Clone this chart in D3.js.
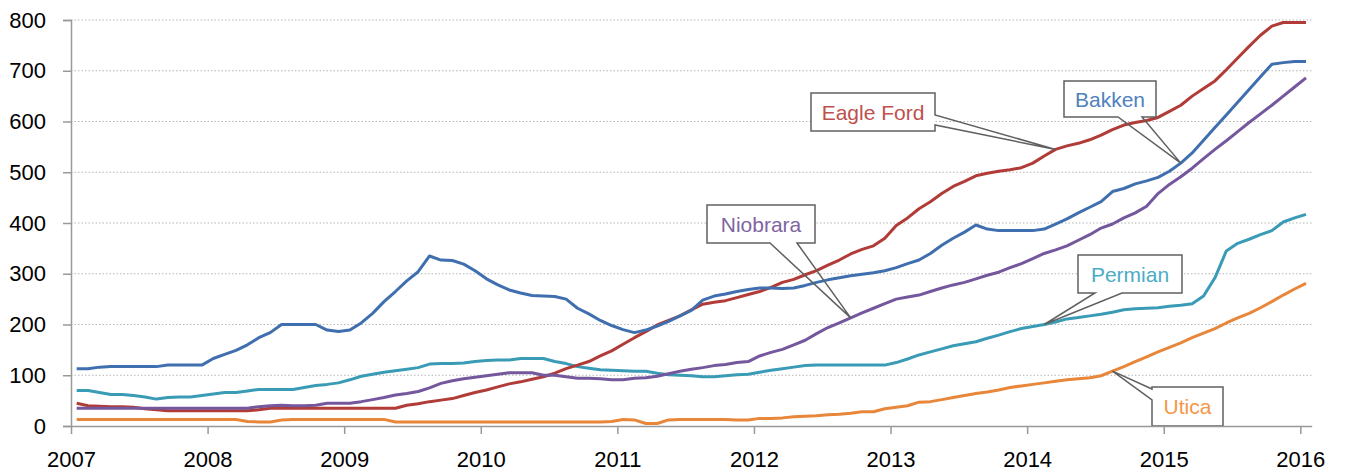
<!DOCTYPE html>
<html>
<head>
<meta charset="utf-8">
<script src="https://cdn.jsdelivr.net/npm/d3@7/dist/d3.min.js"></script>
<style>
body{margin:0;background:#fff;}
svg{display:block;font-family:'Liberation Sans',Arial,sans-serif;}
</style>
</head>
<body>
<div id="chart"></div>
<script>
// monthly values, Jan 2007 .. Jan 2016 (109 months)
var years=[2007,2008,2009,2010,2011,2012,2013,2014,2015,2016];
var yTicks=[0,100,200,300,400,500,600,700,800];

var bakken=[
	113,113,116,117,117,117,117,117,120,120,120,120,
	133,141,149,160,174,184,200,200,200,200,189,186,
	189,203,222,245,265,286,304,335,327,326,319,306,
	290,278,268,262,257,256,255,250,232,221,208,198,
	190,184,189,197,206,217,228,248,256,260,265,269,
	272,272,271,272,277,283,288,292,296,299,302,306,
	312,320,327,340,356,370,382,396,388,385,385,385,
	385,388,398,408,420,431,442,462,468,477,483,490,
	502,518,538,563,588,613,638,663,688,713,716,718,
	718];
var eagleFord=[
	45,40,39,38,38,37,34,32,30,30,30,30,
	30,30,30,30,32,35,35,35,35,35,35,35,
	35,35,35,35,35,41,44,48,51,54,60,66,
	71,77,83,87,92,97,104,113,120,127,138,148,
	161,174,186,199,208,217,229,240,244,247,253,259,
	265,273,283,289,298,306,317,327,339,348,355,370,
	395,410,428,442,458,472,482,493,498,502,505,509,
	518,532,545,552,557,564,573,584,593,598,602,608,
	620,632,650,665,680,702,725,748,770,788,795,795,
	795];
var niobrara=[
	35,35,35,35,35,35,35,35,35,35,35,35,
	35,35,35,35,38,40,41,40,40,41,45,45,
	45,48,52,56,61,64,68,75,84,89,93,96,
	99,102,105,105,105,100,100,97,94,94,93,91,
	91,94,95,98,103,108,112,115,119,121,125,127,
	138,145,151,160,169,182,194,203,213,223,232,241,
	250,254,258,265,272,278,283,290,297,303,312,320,
	330,340,347,355,366,377,390,398,410,420,433,458,
	476,491,508,527,545,562,580,598,615,632,650,668,
	686];
var permian=[
	70,70,66,62,62,60,57,53,56,57,57,60,
	63,66,66,69,72,72,72,72,76,80,82,85,
	91,98,102,106,109,112,115,122,123,123,124,127,
	129,130,130,133,133,133,127,123,117,114,111,110,
	109,108,108,104,101,100,99,97,97,99,101,102,
	106,110,113,116,119,120,120,120,120,120,120,120,
	125,132,140,146,152,158,162,166,173,179,186,192,
	196,200,205,211,214,217,220,224,229,231,232,233,
	236,238,241,256,292,345,360,368,377,385,402,410,
	417];
var utica=[
	13,13,13,13,13,13,13,13,13,13,13,13,
	13,13,13,9,8,8,12,13,13,13,13,13,
	13,13,13,13,8,8,8,8,8,8,8,8,
	8,8,8,8,8,8,8,8,8,8,8,9,
	13,12,5,5,12,13,13,13,13,13,12,12,
	15,15,16,18,19,20,22,23,25,28,28,34,
	37,40,47,48,52,56,60,64,67,71,76,79,
	82,85,88,91,93,95,99,108,117,127,136,146,
	155,164,174,183,192,203,213,222,233,245,258,270,
	281];

var seriesNames=['Permian','Eagle Ford','Niobrara','Bakken','Utica'];
var seriesValues=[permian,eagleFord,niobrara,bakken,utica];
var lineColors={'Bakken':'#3f6fae','Eagle Ford':'#b03b37','Niobrara':'#74579c','Permian':'#3a9bb6','Utica':'#e8863a'};
var textColors={'Bakken':'#4f81bd','Eagle Ford':'#c0504d','Niobrara':'#8064a2','Permian':'#4bacc6','Utica':'#f79646'};

// callout boxes: box geometry, side of the wedge, month the wedge points to
var callouts=[
	{name:'Eagle Ford',x:811,y:93,w:124,h:38,side:'right',a:115,b:125,month:86},
	{name:'Bakken',x:1064,y:81,w:92,h:36,side:'bottom',a:1118,b:1142,month:97},
	{name:'Niobrara',x:707,y:205,w:108,h:38,side:'bottom',a:770,b:797,month:68},
	{name:'Permian',x:1078,y:255,w:104,h:38,side:'bottom',a:1095,b:1122,month:85},
	{name:'Utica',x:1152,y:387,w:71,h:39,side:'left',a:389,b:400,month:91}
];

var W=1353,H=473,
	plotL=71,plotR=1311.7,plotT=20,plotB=426,
	nMonths=bakken.length;

var svg=d3.select('#chart').append('svg').attr('width',W).attr('height',H);

var x=d3.scaleLinear().domain([0,nMonths]).range([plotL,plotR]);
var y=d3.scaleLinear().domain([0,800]).range([plotB,plotT]);

//网格线
svg.append('g').selectAll('line').data(yTicks.slice(1)).enter().append('line')
	.attr('x1',plotL).attr('x2',plotR)
	.attr('y1',function(d){return y(d);}).attr('y2',function(d){return y(d);})
	.attr('stroke','#b4b4b4').attr('stroke-width',1).attr('stroke-dasharray','1.5,2');

// lines, points sit in the middle of each month
var line=d3.line()
	.x(function(d,i){return x(i+0.5);})
	.y(function(d){return y(d);});

svg.append('g').selectAll('path').data(seriesValues).enter().append('path')
	.attr('d',line)
	.attr('fill','none')
	.attr('stroke',function(d,i){return lineColors[seriesNames[i]];})
	.attr('stroke-width',3)
	.attr('stroke-linejoin','round');

// callouts
var gCall=svg.append('g');
callouts.forEach(function(c){
	var vals=seriesValues[seriesNames.indexOf(c.name)],
		tx=x(c.month+0.5),ty=y(vals[c.month]),
		r=c.x+c.w,b=c.y+c.h,p;
	if(c.side=='bottom'){
		p='M'+c.x+','+c.y+'H'+r+'V'+b+'H'+c.b+'L'+tx+','+ty+'L'+c.a+','+b+'H'+c.x+'Z';
	}else if(c.side=='right'){
		p='M'+c.x+','+c.y+'H'+r+'V'+c.a+'L'+tx+','+ty+'L'+r+','+c.b+'V'+b+'H'+c.x+'Z';
	}else{
		p='M'+c.x+','+c.y+'H'+r+'V'+b+'H'+c.x+'V'+c.b+'L'+tx+','+ty+'L'+c.x+','+c.a+'Z';
	}
	gCall.append('rect').attr('x',c.x).attr('y',c.y).attr('width',c.w).attr('height',c.h).attr('fill','#fff');
	gCall.append('path').attr('d',p).attr('fill','none').attr('stroke','#606060').attr('stroke-width',1.5);
	gCall.append('text').attr('x',c.x+c.w/2).attr('y',c.y+c.h/2+7.5)
		.attr('text-anchor','middle').attr('font-size',21)
		.attr('fill',textColors[c.name]).text(c.name);
});

// y axis
var yAxis=d3.axisLeft(y).tickValues(yTicks).tickSize(8).tickPadding(17);
var gy=svg.append('g').attr('transform','translate('+plotL+',0)').call(yAxis);
gy.select('.domain').attr('stroke','#999').attr('stroke-width',1.5);
gy.selectAll('.tick line').attr('stroke','#999').attr('stroke-width',1.5);
gy.selectAll('.tick text').attr('font-size',22).attr('fill','#000')
	.attr('font-family','Liberation Sans, Arial, sans-serif');

// x axis, ticks at each January
var xAxis=d3.axisBottom(x).tickValues(years.map(function(d,i){return i*12;}))
	.tickFormat(function(d,i){return years[i];}).tickSize(8).tickPadding(17).tickSizeOuter(0);
var gx=svg.append('g').attr('transform','translate(0,'+plotB+')').call(xAxis);
gx.select('.domain').attr('stroke','#999').attr('stroke-width',1.5);
gx.selectAll('.tick line').attr('stroke','#999').attr('stroke-width',1.5);
gx.selectAll('.tick text').attr('font-size',22).attr('fill','#000')
	.attr('font-family','Liberation Sans, Arial, sans-serif');
</script>
</body>
</html>
